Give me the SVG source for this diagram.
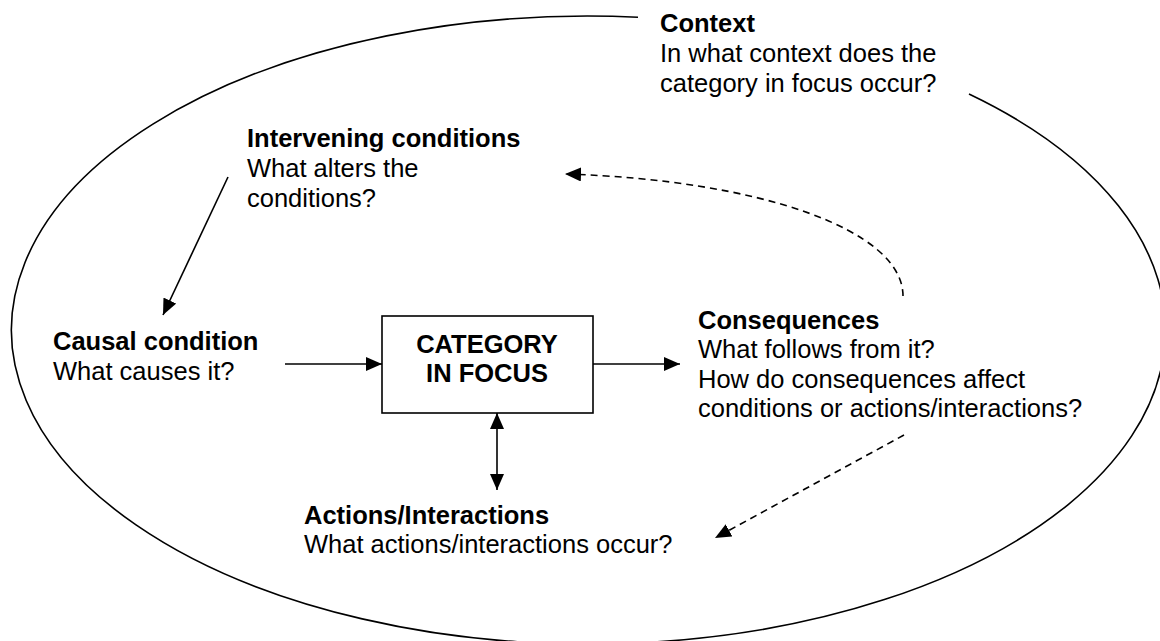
<svg xmlns="http://www.w3.org/2000/svg" width="1160" height="641" viewBox="0 0 1160 641">
<style>
text{font-family:"Liberation Sans",Arial,sans-serif;font-size:25.5px;fill:#000}
.b{font-weight:bold}
.c{text-anchor:middle}
.ln{fill:none;stroke:#000;stroke-width:1.6}
.dash{stroke-dasharray:7 5}
</style>
<defs>
<marker id="ah" viewBox="0 0 16 14" refX="16" refY="7" markerWidth="16" markerHeight="14" markerUnits="userSpaceOnUse" orient="auto-start-reverse">
<path d="M0,0 L16,7 L0,14 z" fill="#000"/>
</marker>
</defs>
<rect width="1160" height="641" fill="#fff"/>
<g id="context">
<path class="ln" d="M 969 94 A 577 314 0 1 1 638 17.2"/>
<text x="660" y="32" class="b">Context</text>
<text x="660" y="62">In what context does the</text>
<text x="660" y="92">category in focus occur?</text>
</g>
<g id="intervening">
<text x="247" y="147" class="b">Intervening conditions</text>
<text x="247" y="177">What alters the</text>
<text x="247" y="207">conditions?</text>
</g>
<g id="causal">
<text x="53" y="350" class="b">Causal condition</text>
<text x="53" y="380">What causes it?</text>
</g>
<g id="category">
<rect x="382" y="316" width="211" height="97" fill="#fff" stroke="#000" stroke-width="1.6"/>
<text x="487" y="353" class="b c">CATEGORY</text>
<text x="487" y="382" class="b c">IN FOCUS</text>
</g>
<g id="consequences">
<text x="698" y="329" class="b">Consequences</text>
<text x="698" y="358">What follows from it?</text>
<text x="698" y="388">How do consequences affect</text>
<text x="698" y="417">conditions or actions/interactions?</text>
</g>
<g id="actions">
<text x="304" y="524" class="b">Actions/Interactions</text>
<text x="304" y="553">What actions/interactions occur?</text>
</g>
<g id="connectors">
<line class="ln" x1="285" y1="364" x2="382" y2="364" marker-end="url(#ah)"/>
<line class="ln" x1="593" y1="364" x2="680" y2="364" marker-end="url(#ah)"/>
<line class="ln" x1="497" y1="413" x2="497" y2="490" marker-start="url(#ah)" marker-end="url(#ah)"/>
<line class="ln" x1="228" y1="177" x2="163" y2="315" marker-end="url(#ah)"/>
<path class="ln dash" d="M 903 296 C 903 230 760 180 565 174" marker-end="url(#ah)"/>
<line class="ln dash" x1="904" y1="435" x2="715" y2="538" marker-end="url(#ah)"/>
</g>
</svg>
